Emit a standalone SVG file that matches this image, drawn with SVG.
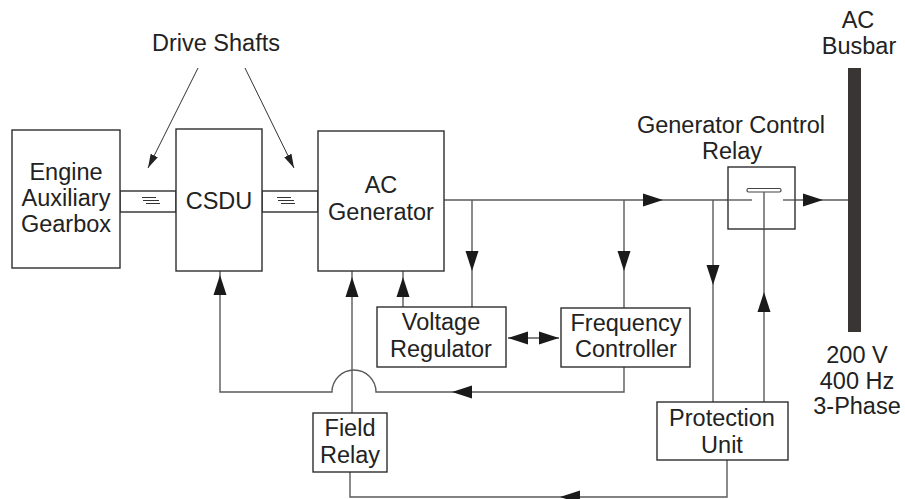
<svg xmlns="http://www.w3.org/2000/svg" xmlns:xlink="http://www.w3.org/1999/xlink" width="905" height="499" viewBox="0 0 905 499">
<style>
.box{fill:#fff;stroke:#2e2e2e;stroke-width:1.4}
.ln{fill:none;stroke:#5a5a5a;stroke-width:1.4}
.thin{fill:none;stroke:#333;stroke-width:1}
.ah{fill:#1a1a1a}
text{font-family:"Liberation Sans",Arial,sans-serif;font-size:23.5px;fill:#222;text-anchor:middle}
</style>
<defs>
<polygon id="arr" points="0,0 -20,-6.5 -20,6.5" class="ah"/>
<marker id="sm" viewBox="0 0 14 8" refX="14" refY="4" markerWidth="14" markerHeight="8" markerUnits="userSpaceOnUse" orient="auto">
<path d="M0,0 L14,4 L0,8 Z" fill="#222"/>
</marker>
</defs>
<rect width="905" height="499" fill="#fff"/>

<g id="connectors">
<line class="ln" x1="444" y1="200" x2="752" y2="200"/>
<line class="ln" x1="783" y1="200" x2="849" y2="200"/>
<line class="ln" x1="472" y1="200" x2="472" y2="307"/>
<line class="ln" x1="624" y1="200" x2="624" y2="308"/>
<line class="ln" x1="403" y1="307" x2="403" y2="271"/>
<line class="ln" x1="508" y1="338" x2="559" y2="338"/>
<path class="ln" d="M624,367 V392 H376 A22,22 0 0 0 332,392 H220 V271"/>
<line class="ln" x1="352" y1="413" x2="352" y2="271"/>
<path class="ln" d="M350,472 V497 H727 V460"/>
<line class="ln" x1="713" y1="200" x2="713" y2="402"/>
<line class="ln" x1="764" y1="402" x2="764" y2="192"/>
<line class="thin" x1="198" y1="68" x2="148" y2="168" marker-end="url(#sm)"/>
<line class="thin" x1="245" y1="68" x2="294" y2="168" marker-end="url(#sm)"/>
<use xlink:href="#arr" transform="translate(663,200)"/>
<use xlink:href="#arr" transform="translate(823,200)"/>
<use xlink:href="#arr" transform="translate(472,271) rotate(90)"/>
<use xlink:href="#arr" transform="translate(624,271) rotate(90)"/>
<use xlink:href="#arr" transform="translate(403,277) rotate(-90)"/>
<use xlink:href="#arr" transform="translate(220,275) rotate(-90)"/>
<use xlink:href="#arr" transform="translate(352,277) rotate(-90)"/>
<use xlink:href="#arr" transform="translate(508,338) rotate(180)"/>
<use xlink:href="#arr" transform="translate(559,338)"/>
<use xlink:href="#arr" transform="translate(452,392) rotate(180)"/>
<use xlink:href="#arr" transform="translate(713,285) rotate(90)"/>
<use xlink:href="#arr" transform="translate(764,292) rotate(-90)"/>
<use xlink:href="#arr" transform="translate(560,497) rotate(180)"/>
</g>

<g id="drive-shafts-label">
<text x="216" y="51">Drive Shafts</text>
</g>

<g id="shaft1">
<rect class="box" x="120" y="191" width="56" height="21"/>
<path class="thin" d="M142,197.5 H156 M143,200.5 H159 M146,203.5 H160"/>
</g>
<g id="shaft2">
<rect class="box" x="262" y="191" width="56" height="21"/>
<path class="thin" d="M277,197.5 H291 M278,200.5 H294 M281,203.5 H295"/>
</g>

<g id="engine">
<rect class="box" x="12" y="130" width="108" height="138"/>
<text x="66" y="180">Engine</text>
<text x="66" y="206">Auxiliary</text>
<text x="66" y="232">Gearbox</text>
</g>

<g id="csdu">
<rect class="box" x="176" y="129" width="86" height="142"/>
<text x="219" y="209">CSDU</text>
</g>

<g id="ac-generator">
<rect class="box" x="318" y="131" width="126" height="140"/>
<text x="381" y="193">AC</text>
<text x="381" y="220">Generator</text>
</g>

<g id="voltage-regulator">
<rect class="box" x="377" y="307" width="129" height="60"/>
<text x="441" y="330">Voltage</text>
<text x="441" y="357">Regulator</text>
</g>

<g id="frequency-controller">
<rect class="box" x="561" y="308" width="129" height="59"/>
<text x="626" y="331">Frequency</text>
<text x="626" y="357">Controller</text>
</g>

<g id="field-relay">
<rect class="box" x="313" y="413" width="74" height="59"/>
<text x="350" y="436">Field</text>
<text x="350" y="463">Relay</text>
</g>

<g id="protection-unit">
<rect class="box" x="657" y="402" width="131" height="58"/>
<text x="722" y="426">Protection</text>
<text x="722" y="453">Unit</text>
</g>

<g id="generator-control-relay">
<text x="731" y="133">Generator Control</text>
<text x="732" y="159">Relay</text>
<rect class="box" x="728" y="167" width="67" height="62"/>
<line class="ln" x1="728" y1="200" x2="752" y2="200"/>
<line class="ln" x1="783" y1="200" x2="795" y2="200"/>
<rect x="747" y="188.5" width="34" height="3.5" rx="1.5" fill="#fff" stroke="#444" stroke-width="1.2"/>
<line class="ln" x1="764" y1="192" x2="764" y2="229"/>
</g>

<g id="ac-busbar">
<text x="858" y="28">AC</text>
<text x="859" y="54">Busbar</text>
<rect x="848" y="68" width="13" height="264" fill="#393533"/>
<text x="857" y="363">200 V</text>
<text x="857" y="389">400 Hz</text>
<text x="857" y="414">3-Phase</text>
</g>
</svg>
